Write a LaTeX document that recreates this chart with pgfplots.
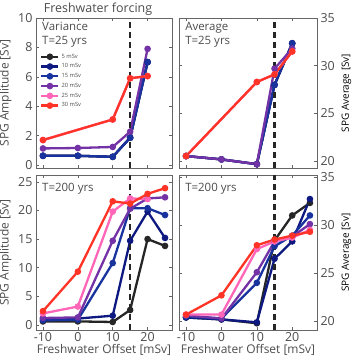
\documentclass[border=0pt]{standalone}
\usepackage{fontspec}
\setmainfont{Open Sans}
\usepackage{pgfplots}
\pgfplotsset{compat=1.18}
\definecolor{cblack}{rgb}{0.15,0.15,0.15}
\definecolor{cblueA}{rgb}{0.05,0.1,0.5}
\definecolor{cblueB}{rgb}{0.1,0.2,0.62}
\definecolor{cpurple}{rgb}{0.45,0.2,0.65}
\definecolor{cpink}{rgb}{1,0.4,0.72}
\definecolor{cred}{rgb}{1,0.2,0.15}
\definecolor{txt}{gray}{0.3}
\definecolor{frame}{gray}{0.4}
\pgfplotsset{
 panel/.style={scale only axis, width=136bp, height=150bp, anchor=south west,
  xmin=-12, xmax=27, xtick={-10,0,10,20},
  tick align=inside, axis line style={frame, line width=0.8bp}, tick style={frame, line width=0.6bp},
  major tick length=3bp,
  ticklabel style={font=\fontsize{12.5}{12.5}\selectfont, text=txt},
  xticklabel style={yshift=1bp},
  /pgf/number format/assume math mode=true,
  label style={font=\fontsize{12}{12}\selectfont, text=txt},
  every axis plot/.append style={line width=2.3bp, mark=*, mark size=2.1bp},
 },
 vline/.style={black!85, line width=2.3bp, mark=none, dash pattern=on 6bp off 4bp},
}
\begin{document}
\begin{tikzpicture}
\path[use as bounding box] (0,0) rectangle (352bp,355bp);
% Top left
\begin{axis}[panel, at={(36bp,187bp)}, ymin=-0.2, ymax=10, ytick={0,2,4,6,8,10}, xticklabels={},
  ylabel={SPG Amplitude [Sv]},
  legend style={at={(0.03,0.775)}, anchor=north west, draw=none, fill=none, font=\fontsize{5.8}{6}\selectfont, text=txt, row sep=0.1bp, inner sep=0pt},
  legend cell align=left]
\addplot[cblack] coordinates {(-10,0.63) (0,0.63) (10,0.56) (15,1.86) (20,7.0)};
\addplot[cblueA] coordinates {(-10,0.63) (0,0.63) (10,0.56) (15,1.86) (20,7.0)};
\addplot[cblueB] coordinates {(-10,0.63) (0,0.63) (10,0.56) (15,1.86) (20,7.0)};
\addplot[cpurple] coordinates {(-10,1.13) (0,1.16) (10,1.23) (15,2.27) (20,7.9)};
\addplot[cpink] coordinates {(-10,1.7) (10,3.1) (15,5.9) (20,6.05)};
\addplot[cred] coordinates {(-10,1.7) (10,3.1) (15,5.9) (20,6.05)};
\legend{5 mSv,10 mSv,15 mSv,20 mSv,25 mSv,30 mSv}
\addplot[vline, forget plot] coordinates {(15,-0.2) (15,10)};
\node[anchor=north west, align=left, font=\fontsize{11.5}{14}\selectfont, text=txt] at (axis description cs:0.02,0.995) {Variance\\T=25 yrs};
\end{axis}
% Top right
\begin{axis}[panel, width=138bp, at={(179bp,187bp)}, ymin=19.3, ymax=35, ytick={20,25,30,35}, xticklabels={},
  yticklabel pos=right, ylabel near ticks, ylabel={SPG Average [Sv]}]
\addplot[cblack] coordinates {(-10,20.55) (0,20.2) (10,19.7) (15,28.0) (20,32.35)};
\addplot[cblueA] coordinates {(-10,20.55) (0,20.2) (10,19.7) (15,28.0) (20,32.35)};
\addplot[cblueB] coordinates {(-10,20.55) (0,20.2) (10,19.7) (15,28.0) (20,32.35)};
\addplot[cpurple] coordinates {(-10,20.55) (0,20.2) (10,19.7) (15,29.7) (20,31.8)};
\addplot[cpink] coordinates {(-10,20.55) (10,28.3) (15,29.1) (20,31.5)};
\addplot[cred] coordinates {(-10,20.55) (10,28.3) (15,29.1) (20,31.5)};
\addplot[vline] coordinates {(15,19.3) (15,35)};
\node[anchor=north west, align=left, font=\fontsize{11.5}{14}\selectfont, text=txt] at (axis description cs:0.02,0.995) {Average\\T=25 yrs};
\end{axis}
% Bottom left
\begin{axis}[panel, height=155bp, at={(36bp,25bp)}, ymin=-0.9, ymax=26.2, ytick={0,5,10,15,20,25},
  ylabel={SPG Amplitude [Sv]}, xlabel={Freshwater Offset [mSv]}, xlabel style={yshift=4bp}]
\addplot[cblack] coordinates {(-10,0.6) (0,0.6) (10,0.5) (15,2.6) (20,15.0) (25,13.8)};
\addplot[cblueA] coordinates {(-10,1.05) (0,1.1) (10,1.6) (15,14.7) (20,19.8) (25,15.2)};
\addplot[cblueB] coordinates {(-10,0.8) (0,0.9) (10,10.8) (15,20.4) (20,20.4) (25,19.2)};
\addplot[cpurple] coordinates {(-10,1.2) (0,1.3) (10,14.7) (15,20.3) (20,22.1) (25,22.3)};
\addplot[cpink] coordinates {(-10,2.0) (0,3.2) (10,19.8) (15,22.1) (20,22.0)};
\addplot[cred] coordinates {(-10,2.4) (0,9.3) (10,21.6) (15,21.2) (20,22.9) (25,23.9)};
\addplot[vline] coordinates {(15,-0.9) (15,26.2)};
\node[anchor=north west, align=left, font=\fontsize{11.5}{14}\selectfont, text=txt] at (axis description cs:0.02,0.97) {T=200 yrs};
\end{axis}
% Bottom right
\begin{axis}[panel, width=138bp, height=155bp, at={(179bp,25bp)}, ymin=19.1, ymax=35.2, ytick={20,25,30,35},
  yticklabel pos=right, ylabel near ticks, ylabel={SPG Average [Sv]}, xlabel={Freshwater Offset [mSv]}, xlabel style={yshift=4bp}]
\addplot[cblack] coordinates {(-10,20.4) (0,20.2) (10,19.8) (15,28.4) (20,31.0) (25,32.3)};
\addplot[cblueA] coordinates {(-10,20.4) (0,20.2) (10,19.9) (15,26.5) (20,28.3) (25,32.7)};
\addplot[cblueB] coordinates {(-10,20.5) (0,20.3) (10,24.0) (15,27.8) (20,28.9) (25,31.0)};
\addplot[cpurple] coordinates {(-10,20.6) (0,20.3) (10,25.1) (15,28.3) (20,28.8) (25,30.1)};
\addplot[cpink] coordinates {(-10,20.7) (0,20.7) (10,27.5) (15,28.3) (20,28.7) (25,29.5)};
\addplot[cred] coordinates {(-10,20.7) (0,22.7) (10,27.9) (15,28.5) (20,28.9) (25,29.3)};
\addplot[vline] coordinates {(15,19.1) (15,35.2)};
\node[anchor=north west, align=left, font=\fontsize{11.5}{14}\selectfont, text=txt] at (axis description cs:0.02,0.97) {T=200 yrs};
\end{axis}
\node[font=\fontsize{12.5}{12.5}\selectfont, text=txt] at (98bp,346bp) {Freshwater forcing};
\end{tikzpicture}
\end{document}
